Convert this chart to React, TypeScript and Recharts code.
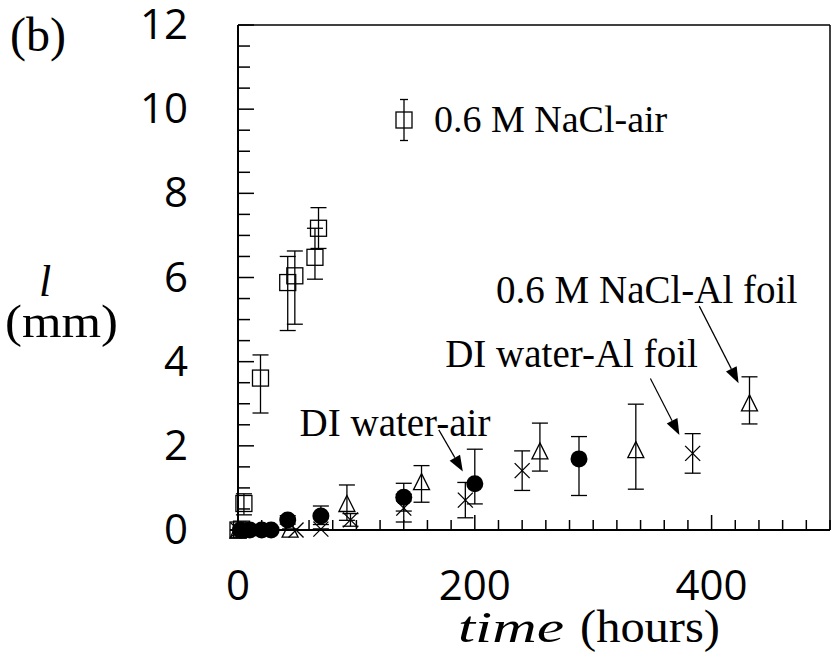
import React from "react";
import {
  ErrorBar,
  Legend,
  ReferenceDot,
  ReferenceLine,
  Scatter,
  ScatterChart,
  XAxis,
  YAxis,
} from "recharts";

// 0.6 M NaCl-air (open squares)
const naclAirTime = [0, 3, 5, 19, 42, 48, 65, 68];
const naclAirLen = [0, 0.02, 0.63, 3.61, 5.88, 6.04, 6.48, 7.17];
const naclAirErrLow = [0, 0, 0.27, 0.83, 1.14, 1.15, 0.52, 0.48];
const naclAirErrHigh = [0, 0, 0.23, 0.55, 0.62, 0.59, 0.69, 0.49];

// DI water-air (filled circles)
const diAirTime = [2, 10, 20, 28, 42, 70, 140, 200, 288];
const diAirLen = [0, 0, 0, 0, 0.24, 0.33, 0.78, 1.1, 1.69];
const diAirErrLow = [0, 0, 0, 0, 0.1, 0.2, 0.33, 0.48, 0.87];
const diAirErrHigh = [0, 0, 0, 0, 0.1, 0.24, 0.33, 0.82, 0.53];

// 0.6 M NaCl-Al foil (open triangles)
const naclFoilTime = [0, 44, 92, 155, 255, 336, 432];
const naclFoilLen = [0, 0.02, 0.63, 1.15, 1.88, 1.91, 3.02];
const naclFoilErrLow = [0, 0, 0.4, 0.49, 0.48, 0.94, 0.5];
const naclFoilErrHigh = [0, 0, 0.44, 0.38, 0.66, 1.08, 0.62];

// DI water-Al foil (crosses)
const diFoilTime = [0, 49, 70, 95, 140, 192, 240, 384];
const diFoilLen = [0, 0, 0.02, 0.24, 0.52, 0.71, 1.41, 1.82];
const diFoilErr = [0, 0, 0, 0.15, 0.33, 0.42, 0.47, 0.47];

const xTicks = Array.from({ length: 26 }, (_, i) => i * 20);
const yTicks = Array.from({ length: 25 }, (_, i) => i * 0.5);

// annotation text: [time, length, text]
const notes: [number, number, string][] = [
  [52, 2.23, "DI water-air"],
  [175, 3.87, "DI water-Al foil"],
  [218, 5.39, "0.6 M NaCl-Al foil"],
];
// arrows: [t1, l1, t2, l2]
const arrows: [number, number, number, number][] = [
  [169.6, 2.38, 189.9, 1.39],
  [348.3, 3.6, 372.8, 2.26],
  [389.6, 5.32, 422.8, 3.49],
];

const toRows = (t: number[], l: number[], lo: number[], hi: number[]) =>
  t.map((v, i) => ({ t: v, l: l[i], err: [lo[i], hi[i]] }));

const naclAir = toRows(naclAirTime, naclAirLen, naclAirErrLow, naclAirErrHigh);
const diAir = toRows(diAirTime, diAirLen, diAirErrLow, diAirErrHigh);
const naclFoil = toRows(naclFoilTime, naclFoilLen, naclFoilErrLow, naclFoilErrHigh);
const diFoil = toRows(diFoilTime, diFoilLen, diFoilErr, diFoilErr);

const serif = "'Liberation Serif', 'Times New Roman', serif";
const sans = "'Open Sans', sans-serif";

const Square = ({ cx, cy }: any) => (
  <rect x={cx - 8} y={cy - 8} width={16} height={16} fill="none" stroke="#000" strokeWidth={1.3} />
);
const Circle = ({ cx, cy }: any) => <circle cx={cx} cy={cy} r={8.5} fill="#000" />;
const Triangle = ({ cx, cy }: any) => (
  <polygon
    points={`${cx},${cy - 8} ${cx + 8},${cy + 8} ${cx - 8},${cy + 8}`}
    fill="none"
    stroke="#000"
    strokeWidth={1.3}
  />
);
const Cross = ({ cx, cy }: any) => (
  <g stroke="#000" strokeWidth={1.3}>
    <line x1={cx - 7.5} y1={cy - 7.5} x2={cx + 7.5} y2={cy + 7.5} />
    <line x1={cx - 7.5} y1={cy + 7.5} x2={cx + 7.5} y2={cy - 7.5} />
  </g>
);

const YTick = ({ x, y, payload }: any) => {
  const major = payload.value % 2 === 0;
  return (
    <g>
      <line x1={x} y1={y} x2={x + (major ? 16 : 12)} y2={y} stroke="#000" strokeWidth={1.5} />
      {major && (
        <text x={x - 50} y={y} dy={14} textAnchor="end" fontFamily={sans} fontSize={42} fill="#000">
          {payload.value}
        </text>
      )}
    </g>
  );
};

const XTick = ({ x, y, payload }: any) => {
  const major = payload.value % 200 === 0;
  return (
    <g>
      <line x1={x} y1={y} x2={x} y2={y - (major ? 15 : 10)} stroke="#000" strokeWidth={1.5} />
      {major && (
        <text x={x} y={y} dy={70} textAnchor="middle" fontFamily={sans} fontSize={42} fill="#000">
          {payload.value}
        </text>
      )}
    </g>
  );
};

const YTitle = ({ viewBox }: any) => {
  const { x, y } = viewBox;
  return (
    <g fill="#000">
      <text x={x + 10} y={y + 26} fontFamily={serif} fontSize={48}>
        (b)
      </text>
      <text x={x + 45} y={y + 271} fontFamily={serif} fontStyle="italic" fontSize={44} textAnchor="middle">
        l
      </text>
      <text x={x + 5} y={y + 312} fontFamily={serif} fontSize={46} textLength={113} lengthAdjust="spacingAndGlyphs">
        (mm)
      </text>
    </g>
  );
};

const XTitle = ({ viewBox }: any) => {
  const { y } = viewBox;
  return (
    <g fill="#000">
      <text x={458} y={y + 112} fontFamily={serif} fontStyle="italic" fontSize={44} textLength={106} lengthAdjust="spacingAndGlyphs">
        time
      </text>
      <text x={580} y={y + 112} fontFamily={serif} fontSize={46} textLength={140} lengthAdjust="spacingAndGlyphs">
        (hours)
      </text>
    </g>
  );
};

const LegendBox = () => (
  <svg width={300} height={60}>
    <line x1={10} y1={4.5} x2={10} y2={45.5} stroke="#000" strokeWidth={1.3} />
    <line x1={6} y1={4.5} x2={14} y2={4.5} stroke="#000" strokeWidth={1.3} />
    <line x1={6} y1={45.5} x2={14} y2={45.5} stroke="#000" strokeWidth={1.3} />
    <rect x={2} y={17} width={16} height={16} fill="none" stroke="#000" strokeWidth={1.3} />
    <text x={40} y={37} fontFamily={serif} fontSize={38} fill="#000">
      0.6 M NaCl-air
    </text>
  </svg>
);

const Arrow = ({ x1, y1, x2, y2 }: any) => {
  const ang = Math.atan2(y2 - y1, x2 - x1);
  const len = 16;
  const w = 6;
  const bx = x2 - len * Math.cos(ang);
  const by = y2 - len * Math.sin(ang);
  const px = -Math.sin(ang) * w;
  const py = Math.cos(ang) * w;
  return (
    <g>
      <line x1={x1} y1={y1} x2={bx} y2={by} stroke="#000" strokeWidth={1.2} />
      <polygon points={`${x2},${y2} ${bx + px},${by + py} ${bx - px},${by - py}`} fill="#000" />
    </g>
  );
};

const NoteText = (text: string) => ({ cx, cy }: any) => (
  <text x={cx} y={cy} fontFamily={serif} fontSize={39} fill="#000">
    {text}
  </text>
);

function XTitleWrap(props: any) {
  return <XTitle {...props} />;
}
function YTitleWrap(props: any) {
  return <YTitle {...props} />;
}

export default function App() {
  return (
    <div style={{ position: "absolute", left: 0, top: 0, background: "#fff" }}>
      <ScatterChart width={833} height={658} margin={{ top: 25, right: 3, bottom: 48, left: 0 }}>
        <XAxis
          type="number"
          dataKey="t"
          domain={[0, 500]}
          ticks={xTicks}
          interval={0}
          height={80}
          tickSize={0}
          tickMargin={0}
          tickLine={false}
          tick={<XTick />}
          axisLine={{ stroke: "#000", strokeWidth: 2 }}
          label={<XTitleWrap />}
        />
        <YAxis
          type="number"
          dataKey="l"
          domain={[0, 12]}
          ticks={yTicks}
          interval={0}
          width={238}
          tickSize={0}
          tickMargin={0}
          tickLine={false}
          tick={<YTick />}
          axisLine={{ stroke: "#000", strokeWidth: 2 }}
          label={<YTitleWrap />}
        />
        <ReferenceLine y={12} stroke="#000" strokeWidth={1.5} />
        <ReferenceLine x={500} stroke="#000" strokeWidth={1.5} />

        <Scatter data={naclAir} shape={<Square />} isAnimationActive={false}>
          <ErrorBar dataKey="err" direction="y" width={8} stroke="#000" strokeWidth={1.3} />
        </Scatter>
        <Scatter data={naclFoil} shape={<Triangle />} isAnimationActive={false}>
          <ErrorBar dataKey="err" direction="y" width={8} stroke="#000" strokeWidth={1.3} />
        </Scatter>
        <Scatter data={diFoil} shape={<Cross />} isAnimationActive={false}>
          <ErrorBar dataKey="err" direction="y" width={8} stroke="#000" strokeWidth={1.3} />
        </Scatter>
        <Scatter data={diAir} shape={<Circle />} isAnimationActive={false}>
          <ErrorBar dataKey="err" direction="y" width={8} stroke="#000" strokeWidth={1.3} />
        </Scatter>

        {arrows.map(([a, b, c, d], i) => (
          <ReferenceLine
            key={"a" + i}
            segment={[
              { x: a, y: b },
              { x: c, y: d },
            ]}
            shape={(p: any) => <Arrow {...p} />}
          />
        ))}
        {notes.map(([t, l, text], i) => (
          <ReferenceDot key={"n" + i} x={t} y={l} r={0} shape={NoteText(text)} />
        ))}

        <Legend
          layout="horizontal"
          verticalAlign="middle"
          align="center"
          content={<LegendBox />}
          wrapperStyle={{ position: "absolute", left: 394, top: 95, width: 300 }}
        />
      </ScatterChart>
    </div>
  );
}
